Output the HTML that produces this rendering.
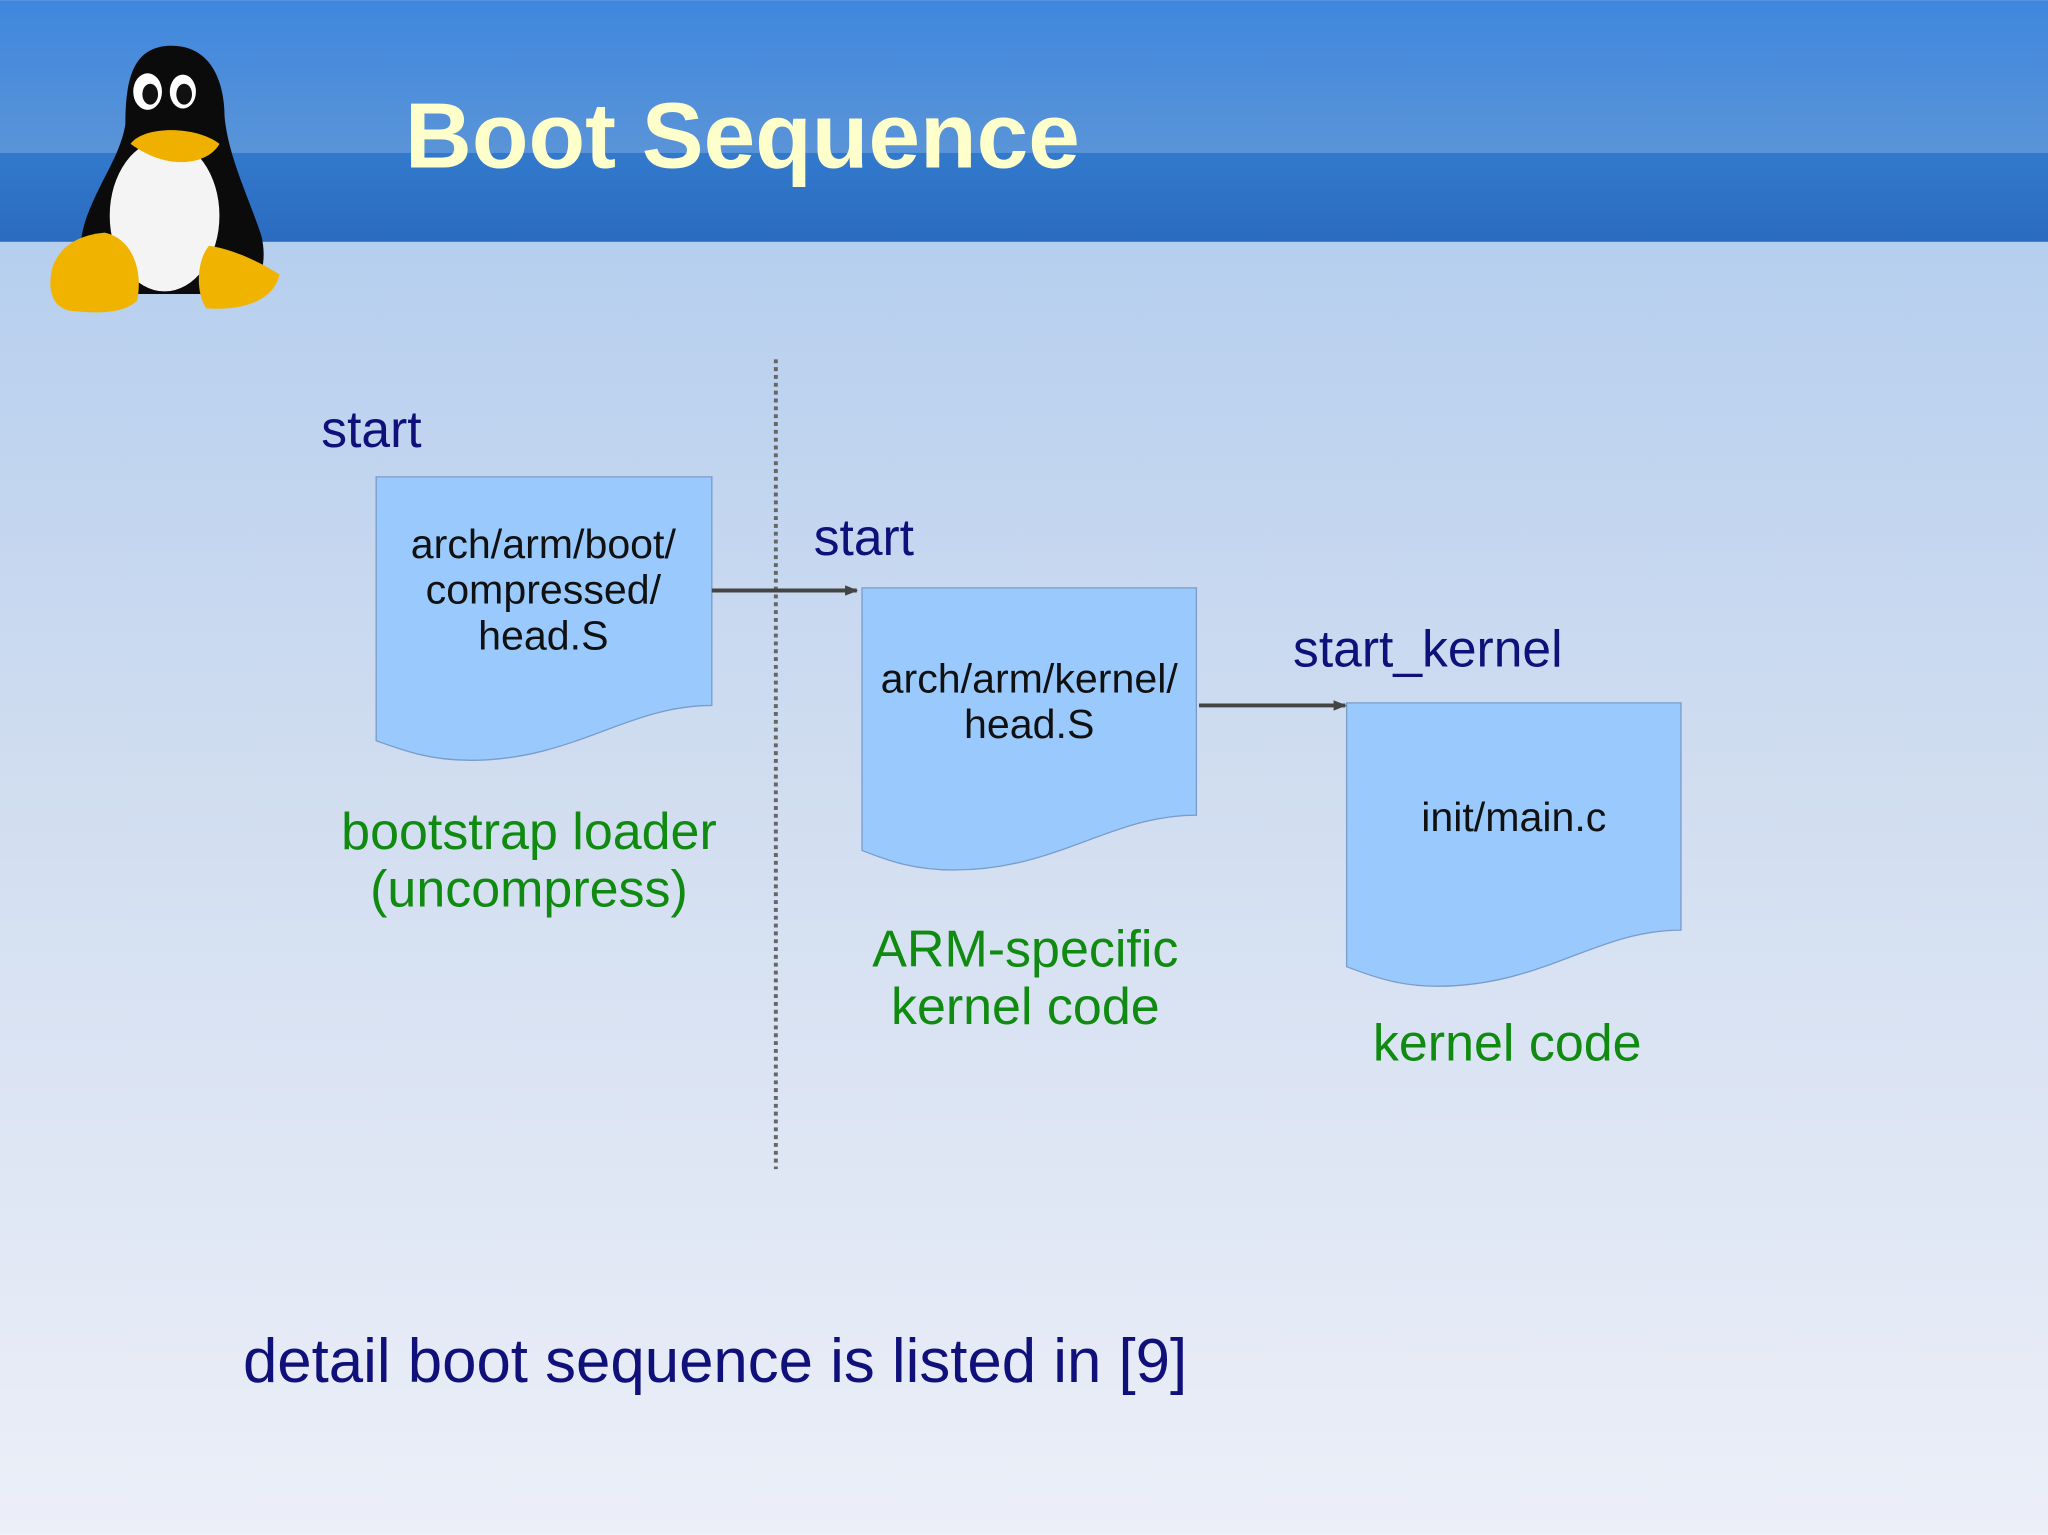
<!DOCTYPE html>
<html><head><meta charset="utf-8"><style>
html,body{margin:0;padding:0;width:2048px;height:1535px;overflow:hidden}
svg{display:block}
text{font-family:"Liberation Sans",sans-serif}
</style></head><body>
<svg width="2048" height="1535" viewBox="0 0 1568 1175" xmlns="http://www.w3.org/2000/svg">
<defs>
<linearGradient id="bg" x1="0" y1="0" x2="0" y2="1">
<stop offset="0" stop-color="#aac8ee"/><stop offset="0.5" stop-color="#d0ddf0"/><stop offset="1" stop-color="#eceff8"/></linearGradient>
<linearGradient id="h1" x1="0" y1="0" x2="0" y2="1"><stop offset="0" stop-color="#3f87dd"/><stop offset="1" stop-color="#5a94d8"/></linearGradient>
<linearGradient id="h2" x1="0" y1="0" x2="0" y2="1"><stop offset="0" stop-color="#3279cc"/><stop offset="1" stop-color="#2a6bc0"/></linearGradient>
<marker id="ar" markerWidth="10" markerHeight="8" refX="9" refY="4" orient="auto" markerUnits="userSpaceOnUse"><path d="M0,0 L10,4 L0,8 z" fill="#444"/></marker>
</defs>
<rect width="1568" height="1175" fill="url(#bg)"/>
<rect width="1568" height="118" fill="url(#h1)"/>
<rect y="117" width="1568" height="68" fill="url(#h2)"/>
<g>
<path d="M128,35 C160,33 172,60 172,90 C175,120 190,150 200,180 C205,200 200,220 185,225 L80,225 C60,215 58,195 65,170 C75,140 92,120 96,95 C96,60 102,37 128,35 z" fill="#0b0b0b"/>
<ellipse cx="126" cy="165" rx="42" ry="58" fill="#f4f4f4"/>
<ellipse cx="113" cy="70" rx="11" ry="14" fill="#fff"/><ellipse cx="140" cy="70" rx="10" ry="13" fill="#fff"/>
<ellipse cx="115" cy="72" rx="6" ry="8" fill="#111"/><ellipse cx="141" cy="72" rx="6" ry="8" fill="#111"/>
<path d="M100,110 C110,96 150,96 168,110 C160,125 130,132 100,110 z" fill="#f0b000"/>
<path d="M55,238 C40,236 36,222 40,205 C45,190 58,180 80,178 C100,182 110,205 105,230 C95,240 75,240 55,238 z" fill="#f0b400"/>
<path d="M158,236 C150,225 150,200 160,188 C175,190 195,198 214,210 C210,228 190,238 158,236 z" fill="#f0b400"/>
</g>
<text x="310" y="128" font-size="71" font-weight="bold" fill="#ffffcc">Boot Sequence</text>
<line x1="594" y1="275" x2="594" y2="895" stroke="#666" stroke-width="3" stroke-dasharray="3,3"/>
<path d="M288,365 H545 V540 C480,540 440,582 360,582 C330,582 310,575 288,567 Z" fill="#99c9fd" stroke="#7a9cc9" stroke-width="1"/>
<path d="M660,450 H916 V624 C850,624 810,666 730,666 C700,666 680,659 660,651 Z" fill="#99c9fd" stroke="#7a9cc9" stroke-width="1"/>
<path d="M1031,538 H1287 V712 C1222,712 1182,755 1100,755 C1072,755 1052,748 1031,740 Z" fill="#99c9fd" stroke="#7a9cc9" stroke-width="1"/>
<line x1="545" y1="452" x2="656" y2="452" stroke="#444" stroke-width="3" marker-end="url(#ar)"/>
<line x1="918" y1="540" x2="1030" y2="540" stroke="#444" stroke-width="3" marker-end="url(#ar)"/>
<g font-size="31.5" fill="#111" text-anchor="middle">
<text x="416" y="427">arch/arm/boot/</text>
<text x="416" y="462">compressed/</text>
<text x="416" y="497">head.S</text>
<text x="788" y="530">arch/arm/kernel/</text>
<text x="788" y="565">head.S</text>
<text x="1159" y="636">init/main.c</text>
</g>
<g font-size="39.5" fill="#10107a">
<text x="246" y="342">start</text>
<text x="623" y="425">start</text>
<text x="990" y="510">start_kernel</text>
</g>
<g font-size="39.8" fill="#108a10" text-anchor="middle">
<text x="405" y="650">bootstrap loader</text>
<text x="405" y="694">(uncompress)</text>
<text x="785" y="740">ARM-specific</text>
<text x="785" y="784">kernel code</text>
<text x="1154" y="812">kernel code</text>
</g>
<text x="186" y="1058" font-size="47.3" fill="#10107a">detail boot sequence is listed in [9]</text>
</svg>
</body></html>
